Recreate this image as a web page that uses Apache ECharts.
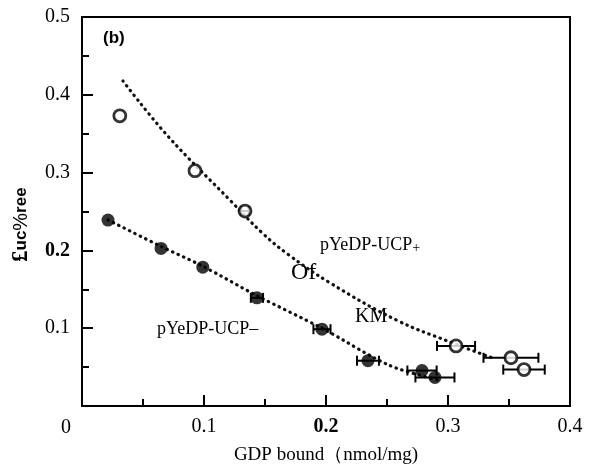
<!DOCTYPE html>
<html><head><meta charset="utf-8">
<script src="https://cdn.jsdelivr.net/npm/echarts@6/dist/echarts.min.js"></script>
<style>html,body{margin:0;padding:0;background:#fff}#c{width:590px;height:470px}</style>
</head><body><div id="c"></div>
<script>
// Tick values
var xTicks = [0, 0.1, 0.2, 0.3, 0.4];
var yTicks = [0, 0.1, 0.2, 0.3, 0.4, 0.5];
// pYeDP-UCP- (filled circles): x, y, x-error
var minusX = [0.0213, 0.0648, 0.099, 0.1434, 0.1967, 0.2344, 0.2787, 0.2893];
var minusY = [0.239, 0.2025, 0.1785, 0.139, 0.0987, 0.0582, 0.0456, 0.0367];
var minusErr = [0, 0, 0, 0.005, 0.007, 0.009, 0.012, 0.016];
// pYeDP-UCP+ (open circles)
var plusX = [0.031, 0.0926, 0.1336, 0.3066, 0.3516, 0.3623];
var plusY = [0.373, 0.3025, 0.2506, 0.0772, 0.062, 0.0468];
var plusErr = [0, 0, 0.003, 0.0156, 0.0225, 0.017];
// fitted dotted curves
var fitPlusX = [0.0336, 0.0697, 0.1213, 0.1484, 0.1689, 0.2033, 0.2582, 0.3016, 0.3361];
var fitPlusY = [0.4177, 0.3481, 0.2646, 0.2215, 0.1949, 0.1582, 0.1101, 0.0823, 0.0620];
var fitMinusX = [0.0213, 0.0648, 0.099, 0.1434, 0.1967, 0.2525, 0.2934];
var fitMinusY = [0.2392, 0.2051, 0.1797, 0.1418, 0.1000, 0.0519, 0.0329];

function zip(a, b, c) { return a.map(function (v, i) { return c ? [v, b[i], c[i]] : [v, b[i]]; }); }

var chart = echarts.init(document.getElementById('c'), null, {renderer: 'canvas'});
var serif = '"Liberation Serif", "DejaVu Serif", serif';
var sans = '"Liberation Sans", Arial, sans-serif';

function tickFmt(v) {
  if (Math.abs(v) < 1e-9) return '';
  var s = String(Math.round(v * 10) / 10);
  if (Math.abs(v - 0.2) < 1e-9) return '{b|' + s + '}';
  return s;
}

function errRender(params, api) {
  var x = api.value(0), y = api.value(1), e = api.value(2);
  if (!e) return null;
  var p1 = api.coord([x - e, y]);
  var p2 = api.coord([x + e, y]);
  var h = 5;
  var st = {stroke: '#000', lineWidth: 2};
  return {type: 'group', children: [
    {type: 'line', shape: {x1: p1[0], y1: p1[1], x2: p2[0], y2: p2[1]}, style: st},
    {type: 'line', shape: {x1: p1[0], y1: p1[1] - h, x2: p1[0], y2: p1[1] + h}, style: st},
    {type: 'line', shape: {x1: p2[0], y1: p2[1] - h, x2: p2[0], y2: p2[1] + h}, style: st}
  ]};
}

var dotted = {color: '#111', width: 3.2, type: [0.5, 5.5], cap: 'round'};

chart.setOption({
  animation: false,
  backgroundColor: '#fff',
  grid: {left: 82, right: 20, top: 17, bottom: 58, show: true, borderColor: '#000', borderWidth: 2},
  xAxis: {
    type: 'value', min: xTicks[0], max: xTicks[xTicks.length - 1], interval: 0.1,
    axisLine: {show: true, lineStyle: {color: '#000', width: 2}},
    axisTick: {show: true, inside: true, length: 11, lineStyle: {color: '#000', width: 2}},
    minorTick: {show: true, splitNumber: 2, length: 7, lineStyle: {color: '#000', width: 2}},
    splitLine: {show: false},
    axisLabel: {formatter: tickFmt, margin: 11, color: '#000', fontFamily: serif, fontSize: 20,
      rich: {b: {fontWeight: 'bold', fontFamily: serif, fontSize: 20, color: '#000'}}},
    name: 'GDP bound（nmol/mg)', nameLocation: 'middle', nameGap: 40,
    nameTextStyle: {color: '#000', fontFamily: serif, fontSize: 19}
  },
  yAxis: {
    type: 'value', min: yTicks[0], max: yTicks[yTicks.length - 1], interval: 0.1,
    axisLine: {show: true, lineStyle: {color: '#000', width: 2}},
    axisTick: {show: true, inside: true, length: 11, lineStyle: {color: '#000', width: 2}},
    minorTick: {show: true, splitNumber: 2, length: 7, lineStyle: {color: '#000', width: 2}},
    splitLine: {show: false},
    axisLabel: {formatter: tickFmt, margin: 12, color: '#000', fontFamily: serif, fontSize: 20,
      rich: {b: {fontWeight: 'bold', fontFamily: serif, fontSize: 20, color: '#000'}}}
  },
  graphic: [
    {type: 'text', left: 61, top: 418, style: {text: '0', font: '20px ' + serif, fill: '#000'}},
    {type: 'text', left: 103, top: 30, style: {text: '(b)', font: 'bold 17px ' + sans, fill: '#000'}},
    {type: 'text', x: 10, y: 262, rotation: Math.PI / 2, style: {
      text: '{p|£}{a|uc}{c|%}{a|ree}', fill: '#000',
      rich: {p: {font: 'bold 23px ' + serif, fill: '#000'}, a: {font: 'bold 17px ' + sans, fill: '#000'},
             c: {font: '20px ' + sans, fill: '#000'}}},
      originX: 0, originY: 0},
    {type: 'text', left: 320, top: 236, style: {text: '{m|pYeDP-UCP}{s|+}', fill: '#000',
      rich: {m: {font: '18px ' + serif, fill: '#000'}, s: {font: '14px ' + serif, fill: '#000', padding: [6, 0, 0, 0]}}}},
    {type: 'text', left: 291, top: 261, style: {text: 'Of', font: '24px ' + serif, fill: '#000'}},
    {type: 'text', left: 355, top: 307, style: {text: 'KM', font: '20px ' + serif, fill: '#000'}},
    {type: 'text', left: 157, top: 320, style: {text: 'pYeDP-UCP–', font: '18px ' + serif, fill: '#000'}}
  ],
  series: [
    {type: 'line', data: zip(fitPlusX, fitPlusY), smooth: 0.4, showSymbol: false, lineStyle: dotted, z: 2},
    {type: 'line', data: zip(fitMinusX, fitMinusY), smooth: 0.3, showSymbol: false, lineStyle: dotted, z: 2},
    {type: 'custom', data: zip(minusX, minusY, minusErr), renderItem: errRender, z: 3},
    {type: 'custom', data: zip(plusX, plusY, plusErr), renderItem: errRender, z: 3},
    {type: 'scatter', data: zip(minusX, minusY), symbol: 'circle', symbolSize: 13,
      itemStyle: {color: '#000'}, z: 4},
    {type: 'scatter', data: zip(plusX, plusY), symbol: 'circle', symbolSize: 12,
      itemStyle: {color: '#fff', borderColor: '#000', borderWidth: 2.8}, z: 4}
  ]
});
</script></body></html>
